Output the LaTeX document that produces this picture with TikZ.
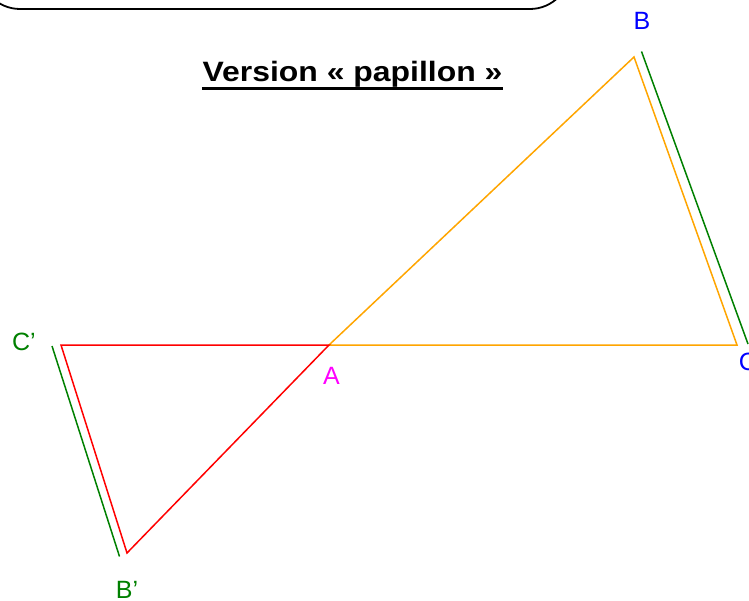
\documentclass[tikz,border=0pt]{standalone}
\usepackage{fontspec}
\setmainfont{Liberation Sans}
\usetikzlibrary{positioning, calc}
\definecolor{orig}{HTML}{FFA500}
\definecolor{image}{HTML}{FF0000}
\definecolor{para}{HTML}{008000}
\definecolor{vert}{HTML}{0000FF}
\definecolor{centre}{HTML}{FF00FF}

\begin{document}
\begin{tikzpicture}[x=1pt, y=-1pt, line width=1.5pt]
  \tikzset{
    pointlabel/.style={font=\fontsize{25}{29}\selectfont, inner sep=0pt},
    side/.style={line width=1.5pt}
  }
  \useasboundingbox (0,0) rectangle (749,601);
  \clip (0,0) rectangle (749,601);

  % Frame (cut by the top edge)
  \draw[black, line width=1.8pt, rounded corners=40pt] (-20,-100) rectangle (570,9);

  % Title
  \node[font=\fontsize{28}{32}\selectfont\bfseries, inner sep=0pt, anchor=base] (title) at (352.5,81.5)
    {\scalebox{1.14}[1]{Version « papillon »}};
  \draw[line width=3pt] ([yshift=-7pt]title.base west) -- ([yshift=-7pt]title.base east);

  % Points
  \coordinate (A) at (329,345);
  \coordinate (B) at (634,57);
  \coordinate (C) at (737,345);
  \coordinate (Cp) at (61,345);
  \coordinate (Bp) at (127,553);

  % Green parallels
  \coordinate (gB) at (641.5,51.5);
  \coordinate (gC) at (748,344);
  \coordinate (gCp) at (52,346);
  \coordinate (gBp) at (119.5,556.5);

  % Triangles
  \draw[orig, side] (A) -- (B) -- (C) -- cycle;
  \draw[image, side] (A) -- (Cp) -- (Bp) -- cycle;
  \draw[para, side] (gB) -- (gC);
  \draw[para, side] (gCp) -- (gBp);

  % Labels
  \node[pointlabel, text=vert] (labB) at (642,21) {B};
  \node[pointlabel, text=vert, anchor=west] (labC) at (738,362) {C};
  \node[pointlabel, text=centre] (labA) at (331.5,376) {A};
  \node[pointlabel, text=para] (labCp) at (24,342) {C’};
  \node[pointlabel, text=para] (labBp) at (127,590) {B’};
\end{tikzpicture}
\end{document}
